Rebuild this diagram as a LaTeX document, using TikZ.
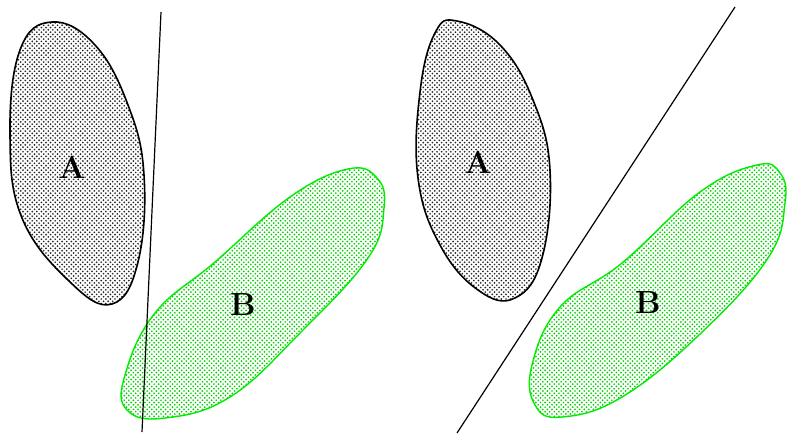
\documentclass[tikz,border=0pt]{standalone}
\usetikzlibrary{patterns}
\pgfdeclarepatternformonly{blobdots}{\pgfqpoint{-1pt}{-1pt}}{\pgfqpoint{5pt}{5pt}}{\pgfqpoint{4.6pt}{4.6pt}}{%
  \pgfpathcircle{\pgfqpoint{0pt}{0pt}}{.95pt}%
  \pgfpathcircle{\pgfqpoint{2.3pt}{2.3pt}}{.95pt}%
  \pgfusepath{fill}}
\definecolor{bgreen}{RGB}{0,235,0}
\definecolor{dgreen}{RGB}{0,205,0}
\tikzset{
  blobA/.style={draw=black, line width=1.6pt, pattern=blobdots, pattern color=black!85},
  blobB/.style={draw=bgreen, line width=1.4pt, pattern=blobdots, pattern color=dgreen},
  sepline/.style={draw=black, line width=1.2pt},
  lbl/.style={font=\fontsize{32}{34}\selectfont\bfseries, inner sep=0pt}
}
\begin{document}
\begin{tikzpicture}[x=1pt, y=-1pt]
\useasboundingbox (0,0) rectangle (787,437);
% left panel
\draw[blobA] plot[smooth cycle, tension=0.7] coordinates {(52,22) (95,45) (128,105) (144,175) (138,262) (112,304) (70,282) (22,218) (10,135) (20,50)};
\draw[blobB] plot[smooth cycle, tension=0.7] coordinates {(348,169) (377,178) (384,208) (368,258) (300,333) (230,397) (165,418) (127,410) (125,375) (155,313) (215,262) (290,197)};
\node[lbl] (la) at (72,167) {A};
\node[lbl] (lb) at (243,305) {B};
\coordinate (l1) at (161,12);
\coordinate (l2) at (142,432);
\draw[sepline] (l1) -- (l2);
% right panel
\draw[blobA] plot[smooth cycle, tension=0.7] coordinates {(457,21) (500,45) (533,100) (550,170) (542,258) (515,298) (478,290) (440,245) (418,178) (420,92) (435,33)};
\draw[blobB] plot[smooth cycle, tension=0.7] coordinates {(757,165) (780,173) (785,203) (768,258) (700,334) (622,397) (562,417) (535,405) (532,365) (560,307) (622,263) (700,192)};
\node[lbl] (ra) at (478,162) {A};
\node[lbl] (rb) at (648,303) {B};
\coordinate (r1) at (735,7);
\coordinate (r2) at (457,433);
\draw[sepline] (r1) -- (r2);
\end{tikzpicture}
\end{document}
